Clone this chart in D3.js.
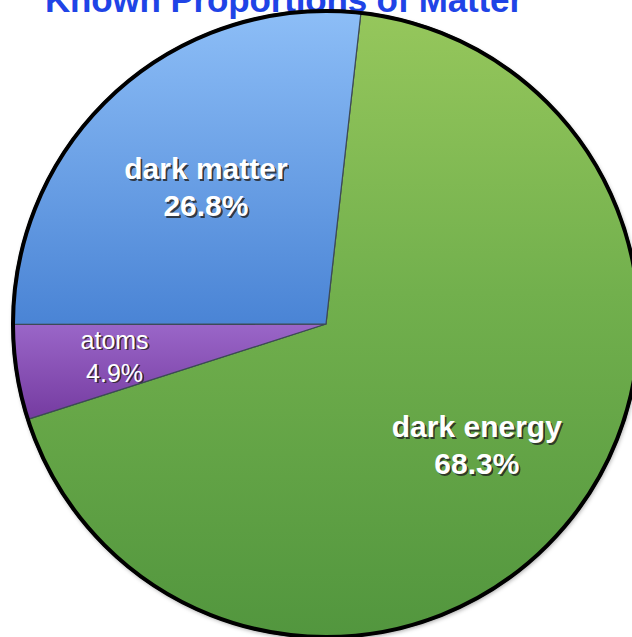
<!DOCTYPE html>
<html>
<head>
<meta charset="utf-8">
<script src="https://cdn.jsdelivr.net/npm/d3@7"></script>
<style>
  html, body { margin: 0; padding: 0; background: #fff; }
  svg { display: block; }
</style>
</head>
<body>
<div id="chart"></div>
<script>
// data, clockwise from just right of 12 o'clock
const labels = ['dark energy', 'atoms', 'dark matter'];
const values = [68.3, 4.9, 26.8];
const title = 'Known Proportions of Matter';

const width = 632, height = 637;
const cx = 326, cy = 324, radius = 314;

// gradient stops (top -> bottom), one set per slice
const shades = [
  [['0', '#96c75c'], ['0.45', '#72b04d'], ['1', '#52963e']],
  [['0.5', '#9a66c8'], ['0.68', '#6e3399']],
  [['0', '#8dbef7'], ['0.5', '#4a84d5']]
];
const labelRadius = [195, 214, 180];

const svg = d3.select('#chart').append('svg')
  .attr('width', width)
  .attr('height', height);

const defs = svg.append('defs');
shades.forEach((stops, i) => {
  const g = defs.append('linearGradient')
    .attr('id', 'grad' + i)
    .attr('gradientUnits', 'userSpaceOnUse')
    .attr('x1', 0).attr('y1', -radius)
    .attr('x2', 0).attr('y2', radius);
  stops.forEach(s => g.append('stop').attr('offset', s[0]).attr('stop-color', s[1]));
});

const shadow = defs.append('filter').attr('id', 'rimShadow')
  .attr('x', '-10%').attr('y', '-10%').attr('width', '120%').attr('height', '120%');
shadow.append('feDropShadow')
  .attr('dx', 1).attr('dy', 2).attr('stdDeviation', 2)
  .attr('flood-color', '#000').attr('flood-opacity', 0.35);

// title, mostly cropped off the top
svg.append('text')
  .attr('x', 45)
  .attr('y', 12)
  .attr('font-family', 'Liberation Sans, Arial, sans-serif')
  .attr('font-weight', 'bold')
  .attr('font-size', 35)
  .attr('textLength', 478)
  .attr('fill', '#1f44e6')
  .text(title);

const pie = d3.pie()
  .sort(null)
  .startAngle(6.4 * Math.PI / 180)
  .endAngle(6.4 * Math.PI / 180 + 2 * Math.PI);

const arcs = pie(values);
const arc = d3.arc().innerRadius(0).outerRadius(radius);

const g = svg.append('g').attr('transform', `translate(${cx},${cy})`);

g.append('circle')
  .attr('r', radius)
  .attr('fill', '#fff')
  .attr('filter', 'url(#rimShadow)');

g.selectAll('path.slice')
  .data(arcs)
  .enter().append('path')
  .attr('class', 'slice')
  .attr('d', arc)
  .style('fill', (d, i) => `url(#grad${i})`)
  .style('stroke', '#3d4a55')
  .style('stroke-width', 1.2)
  .style('stroke-linejoin', 'round');

g.append('circle')
  .attr('r', radius - 1)
  .attr('fill', 'none')
  .attr('stroke', '#000')
  .attr('stroke-width', 4);

const labelArc = i => d3.arc().innerRadius(labelRadius[i]).outerRadius(labelRadius[i]);
const isSmall = i => labels[i] === 'atoms';

const lab = g.selectAll('g.label')
  .data(arcs)
  .enter().append('g')
  .attr('class', 'label')
  .attr('transform', (d, i) => `translate(${labelArc(i).centroid(d)})`);

// dark copy first as the drop shadow, white text on top
[['#222', 1.8, 0.8], ['#fff', 0, 1]].forEach(([col, off, op]) => {
  lab.each(function (d, i) {
    const gap = isSmall(i) ? 33 : 37;
    const t = d3.select(this).append('text')
      .attr('text-anchor', 'middle')
      .attr('font-family', 'Liberation Sans, Arial, sans-serif')
      .attr('font-size', isSmall(i) ? 25 : 30)
      .attr('font-weight', isSmall(i) ? 'normal' : 'bold')
      .attr('fill', col)
      .attr('opacity', op)
      .attr('transform', `translate(${off},${off})`);
    t.append('tspan').attr('x', 0).attr('y', -gap / 2 + 8).text(labels[i]);
    t.append('tspan').attr('x', 0).attr('y', gap / 2 + 8).text(values[i] + '%');
  });
});
</script>
</body>
</html>
